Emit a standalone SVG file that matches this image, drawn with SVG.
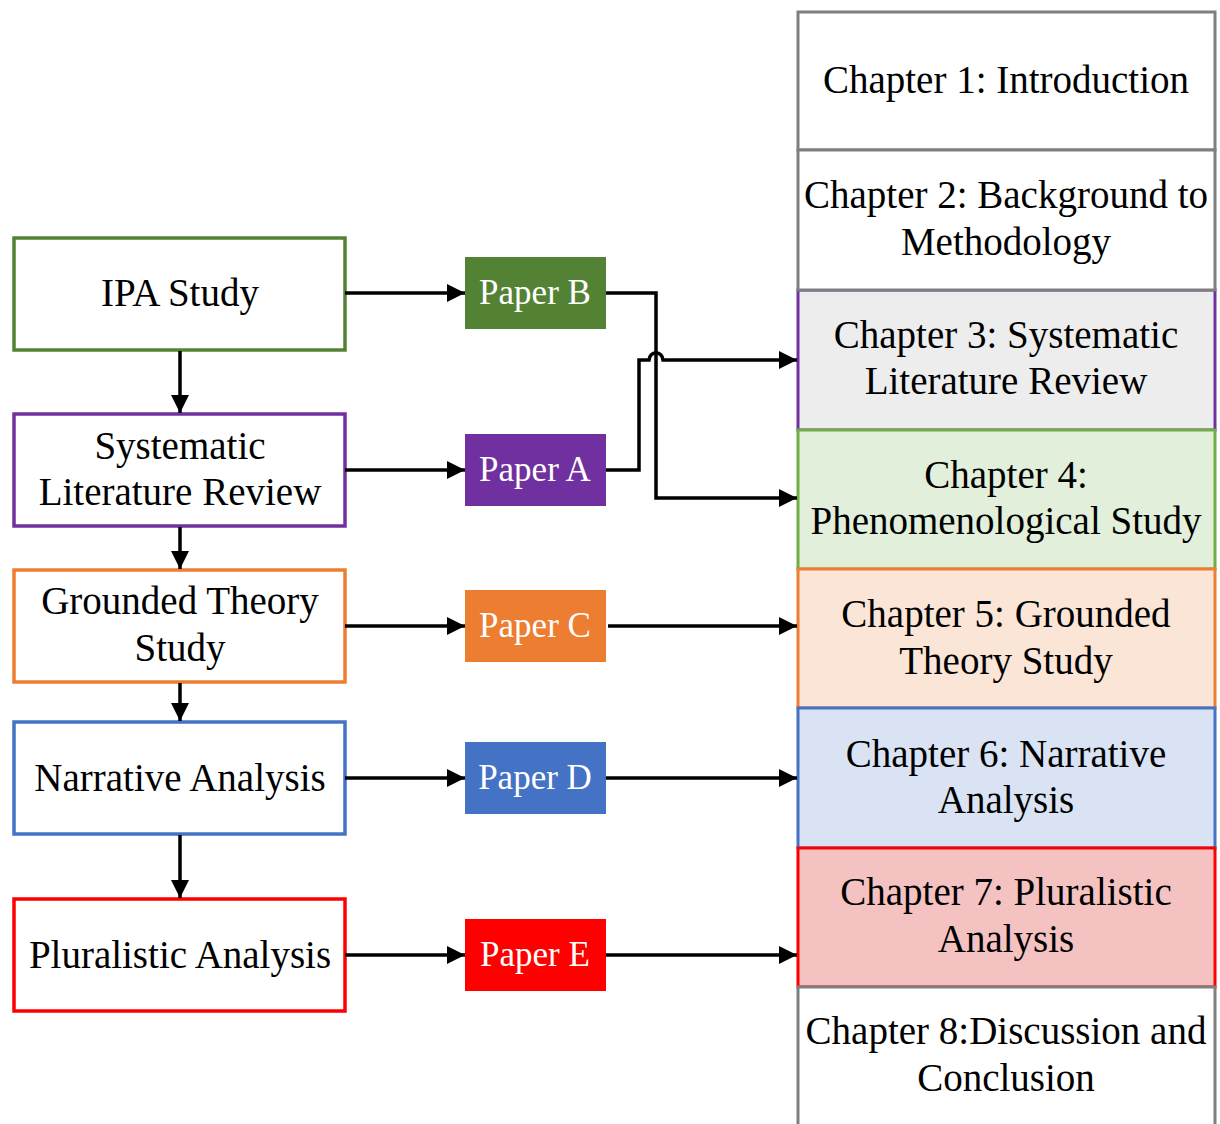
<svg xmlns="http://www.w3.org/2000/svg" width="1220" height="1124" viewBox="0 0 1220 1124">
  <defs>
    <marker id="arrow" markerUnits="userSpaceOnUse" markerWidth="19" markerHeight="20" refX="18" refY="10" orient="auto">
      <path d="M0,1 L18,10 L0,19 Z" fill="#000"/>
    </marker>
    <style>
      text { font-family: "Liberation Serif", "Times New Roman", serif; text-anchor: middle; }
      .lbl { font-size: 39px; fill: #000; }
      .paper-lbl { font-size: 35px; fill: #fff; }
      .step { fill: #fff; stroke-width: 3.5; }
      .chap { stroke-width: 3; }
      .link { fill: none; stroke: #000; stroke-width: 3.5; marker-end: url(#arrow); }
    </style>
  </defs>
  <rect width="1220" height="1124" fill="#fff"/>

  <!-- Thesis chapter column (drawn so that shared edges show the colours below) -->
  <g id="chapter1">
    <rect class="chap" x="798" y="12" width="417" height="138" fill="#fff" stroke="#7f7f7f"/>
    <text class="lbl" x="1006" y="93">Chapter 1: Introduction</text>
  </g>
  <g id="chapter3">
    <rect class="chap" x="798" y="290" width="417" height="140" fill="#ededed" stroke="#7030a0"/>
    <text class="lbl" x="1006" y="348">Chapter 3: Systematic</text>
    <text class="lbl" x="1006" y="394">Literature Review</text>
  </g>
  <g id="chapter2">
    <rect class="chap" x="798" y="150" width="417" height="140" fill="#fff" stroke="#7f7f7f"/>
    <text class="lbl" x="1006" y="208">Chapter 2: Background to</text>
    <text class="lbl" x="1006" y="255">Methodology</text>
  </g>
  <g id="chapter4">
    <rect class="chap" x="798" y="430" width="417" height="139" fill="#e2efda" stroke="#70ad47"/>
    <text class="lbl" x="1006" y="488">Chapter 4:</text>
    <text class="lbl" x="1006" y="534">Phenomenological Study</text>
  </g>
  <g id="chapter5">
    <rect class="chap" x="798" y="569" width="417" height="139" fill="#fbe5d6" stroke="#ed7d31"/>
    <text class="lbl" x="1006" y="627">Chapter 5: Grounded</text>
    <text class="lbl" x="1006" y="674">Theory Study</text>
  </g>
  <g id="chapter6">
    <rect class="chap" x="798" y="708" width="417" height="140" fill="#dae3f3" stroke="#4472c4"/>
    <text class="lbl" x="1006" y="767">Chapter 6: Narrative</text>
    <text class="lbl" x="1006" y="813">Analysis</text>
  </g>
  <g id="chapter7">
    <rect class="chap" x="798" y="848" width="417" height="139" fill="#f5c2c2" stroke="#ff0000"/>
    <text class="lbl" x="1006" y="905">Chapter 7: Pluralistic</text>
    <text class="lbl" x="1006" y="952">Analysis</text>
  </g>
  <g id="chapter8">
    <rect class="chap" x="798" y="987" width="417" height="142" fill="#fff" stroke="#7f7f7f"/>
    <text class="lbl" x="1006" y="1044">Chapter 8:Discussion and</text>
    <text class="lbl" x="1006" y="1091">Conclusion</text>
  </g>

  <!-- Study steps -->
  <g id="ipa-study">
    <rect class="step" x="14" y="238" width="331" height="112" stroke="#548235"/>
    <text class="lbl" x="180" y="306">IPA Study</text>
  </g>
  <g id="systematic-review">
    <rect class="step" x="14" y="414" width="331" height="112" stroke="#7030a0"/>
    <text class="lbl" x="180" y="459">Systematic</text>
    <text class="lbl" x="180" y="505">Literature Review</text>
  </g>
  <g id="grounded-theory">
    <rect class="step" x="14" y="570" width="331" height="112" stroke="#ed7d31"/>
    <text class="lbl" x="180" y="614">Grounded Theory</text>
    <text class="lbl" x="180" y="661">Study</text>
  </g>
  <g id="narrative-analysis">
    <rect class="step" x="14" y="722" width="331" height="112" stroke="#4472c4"/>
    <text class="lbl" x="180" y="791">Narrative Analysis</text>
  </g>
  <g id="pluralistic-analysis">
    <rect class="step" x="14" y="899" width="331" height="112" stroke="#ff0000"/>
    <text class="lbl" x="180" y="968">Pluralistic Analysis</text>
  </g>

  <!-- Papers -->
  <g id="paper-b">
    <rect x="465" y="257" width="141" height="72" fill="#548235"/>
    <text class="paper-lbl" x="535" y="304">Paper B</text>
  </g>
  <g id="paper-a">
    <rect x="465" y="434" width="141" height="72" fill="#7030a0"/>
    <text class="paper-lbl" x="535" y="481">Paper A</text>
  </g>
  <g id="paper-c">
    <rect x="465" y="590" width="141" height="72" fill="#ed7d31"/>
    <text class="paper-lbl" x="535" y="637">Paper C</text>
  </g>
  <g id="paper-d">
    <rect x="465" y="742" width="141" height="72" fill="#4472c4"/>
    <text class="paper-lbl" x="535" y="789">Paper D</text>
  </g>
  <g id="paper-e">
    <rect x="465" y="919" width="141" height="72" fill="#ff0000"/>
    <text class="paper-lbl" x="535" y="966">Paper E</text>
  </g>

  <!-- Connectors -->
  <g id="connectors">
    <!-- step sequence -->
    <path class="link" d="M180,351 V413"/>
    <path class="link" d="M180,527 V569"/>
    <path class="link" d="M180,683 V721"/>
    <path class="link" d="M180,835 V898"/>
    <!-- steps to papers -->
    <path class="link" d="M345,293 H465"/>
    <path class="link" d="M345,470 H465"/>
    <path class="link" d="M345,626 H465"/>
    <path class="link" d="M345,778 H465"/>
    <path class="link" d="M345,955 H465"/>
    <!-- papers to chapters -->
    <path class="link" d="M606,293 H656 V498 H797"/>
    <path class="link" d="M606,470 H639 V360 H649 Q650,353 656,353 Q662,353 663,360 H797"/>
    <path class="link" d="M608,626 H797"/>
    <path class="link" d="M606,778 H797"/>
    <path class="link" d="M606,955 H797"/>
  </g>
</svg>
